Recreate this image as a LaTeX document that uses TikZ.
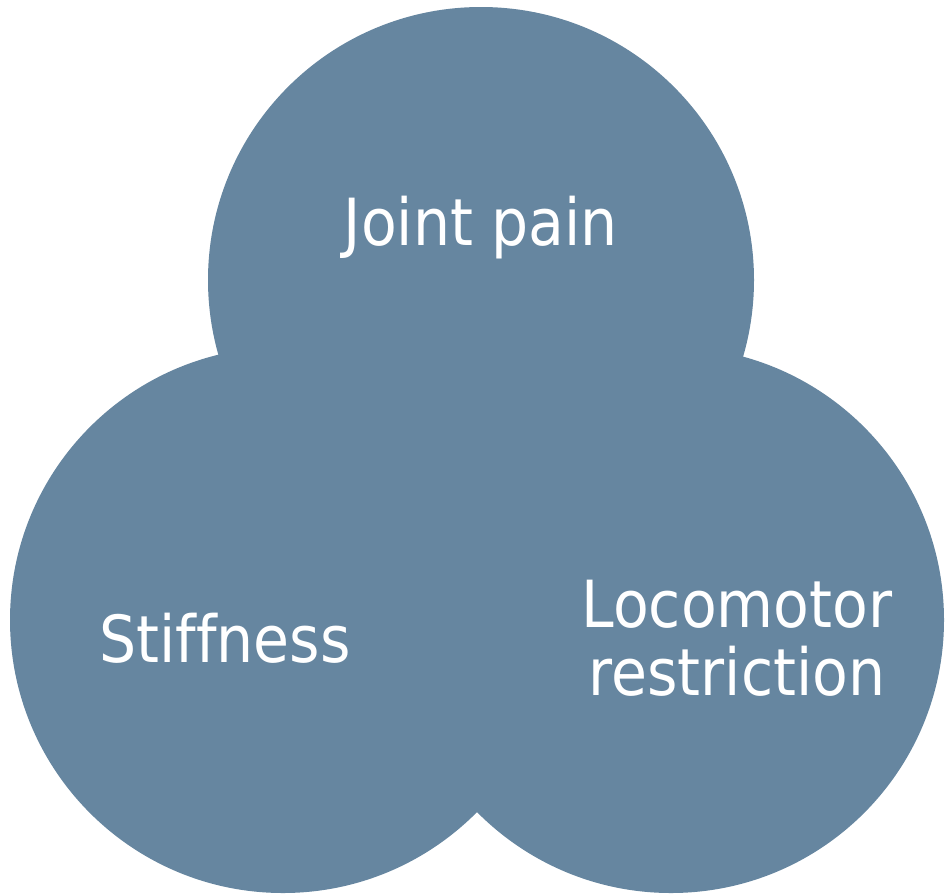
\documentclass[tikz,border=0pt]{standalone}
\usepackage{fontspec}
\setmainfont{DejaVu Sans Condensed}[Ligatures=CommonOff]
\definecolor{discfill}{HTML}{6686A0}
\begin{document}
\begin{tikzpicture}[x=1pt,y=-1pt,
  disc/.style={circle,fill=discfill,draw=none,minimum size=546pt,inner sep=0pt},
  label/.style={text=white,font=\fontsize{65}{68}\selectfont,anchor=base,inner sep=0pt}]
\useasboundingbox (0,0) rectangle (945,895);
\node[disc] (top) at (481,280) {};
\node[disc] (right) at (671,620) {};
\node[disc] (left) at (283,620) {};
\node[label] (joint) at (481,245) {Joint pain};
\node[label] (stiff) at (225,662) {Stiffness};
\node[label] (loco) at (737,627) {Locomotor};
\node[label] (restr) at (737,695) {restriction};
\end{tikzpicture}
\end{document}
